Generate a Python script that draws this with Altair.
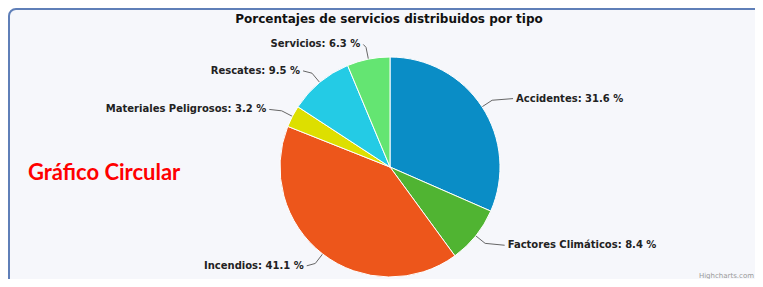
import altair as alt
import pandas as pd

categories = ["Accidentes", "Factores Climáticos", "Incendios",
              "Materiales Peligrosos", "Rescates", "Servicios"]
values = [31.6, 8.4, 41.1, 3.2, 9.5, 6.3]
colors = ["#0a8dc6", "#50b432", "#ed561b", "#dddf00", "#24cbe5", "#64e572"]
title_text = "Porcentajes de servicios distribuidos por tipo"
side_text = "Gráfico Circular"
credit_text = "Highcharts.com"

W, H = 747, 271
CX, CY, R = 382, 159, 110     # pie centre / radius (pixels)
EB = 122                       # connector bend radius
LXR, LXL, LY = 147, 136, 125   # label anchor radii (right side, left side, vertical)

df = pd.DataFrame({"idx": list(range(len(categories))),
                   "category": categories, "value": values})

base = (
    alt.Chart(df)
    .transform_joinaggregate(total="sum(value)")
    .transform_window(cum="sum(value)", sort=[alt.SortField("idx")], frame=[None, 0])
    .transform_calculate(a="2*PI*(datum.cum - datum.value/2)/datum.total")
    .transform_calculate(
        ex=f"{CX} + {R}*sin(datum.a)", ey=f"{CY} - {R}*cos(datum.a)",
        bx=f"{CX} + {EB}*sin(datum.a)", by=f"{CY} - {EB}*cos(datum.a)",
        lx=f"{CX} + (sin(datum.a) >= 0 ? {LXR} : {LXL})*sin(datum.a)",
        ly=f"{CY} - {LY}*cos(datum.a)",
        label="datum.category + ': ' + format(datum.value, '.1f') + ' %'",
        right="sin(datum.a) >= 0",
    )
)

one = pd.DataFrame({"k": [0]})
frame = alt.Chart(one).mark_rect(
    fill="#f6f7fb", stroke="#5f7fb8", strokeWidth=2, cornerRadius=7
).encode(x=alt.value(1), y=alt.value(1), x2=alt.value(1000), y2=alt.value(700))

seg1 = base.mark_rule(color="#666666", strokeWidth=1).encode(
    x=alt.X("ex:Q", scale=None, axis=None), y=alt.Y("ey:Q", scale=None, axis=None),
    x2="bx:Q", y2="by:Q")
seg2 = base.mark_rule(color="#666666", strokeWidth=1).encode(
    x=alt.X("bx:Q", scale=None, axis=None), y=alt.Y("by:Q", scale=None, axis=None),
    x2="lx:Q", y2="ly:Q")

pie = alt.Chart(df).mark_arc(radius=R, stroke="#ffffff", strokeWidth=1).encode(
    theta=alt.Theta("value:Q", stack=True),
    color=alt.Color("category:N", scale=alt.Scale(domain=categories, range=colors), legend=None),
    order=alt.Order("idx:Q"),
    x=alt.value(CX), y=alt.value(CY),
)

lab_style = dict(fontSize=10, font="DejaVu Sans", fontWeight="bold", color="#222222", baseline="middle")
lab_r = base.transform_filter("datum.right").mark_text(align="left", dx=3, **lab_style).encode(
    x=alt.X("lx:Q", scale=None, axis=None), y=alt.Y("ly:Q", scale=None, axis=None), text="label:N")
lab_l = base.transform_filter("!datum.right").mark_text(align="right", dx=-3, **lab_style).encode(
    x=alt.X("lx:Q", scale=None, axis=None), y=alt.Y("ly:Q", scale=None, axis=None), text="label:N")

title = alt.Chart(pd.DataFrame({"t": [title_text]})).mark_text(
    fontSize=12, font="DejaVu Sans", fontWeight="bold", color="#111111", align="center", baseline="middle"
).encode(x=alt.value(381), y=alt.value(11), text="t:N")

side = alt.Chart(pd.DataFrame({"t": [side_text]})).mark_text(
    fontSize=22, font="Lato", fontWeight="bold", color="#ff0000", align="left", baseline="middle"
).encode(x=alt.value(20), y=alt.value(165), text="t:N")

credit = alt.Chart(pd.DataFrame({"t": [credit_text]})).mark_text(
    fontSize=7, font="DejaVu Sans", color="#999999", align="right", baseline="middle"
).encode(x=alt.value(746), y=alt.value(268), text="t:N")

chart = alt.layer(frame, seg1, seg2, pie, lab_r, lab_l, title, side, credit).properties(
    width=W, height=H, padding=0, autosize=alt.AutoSizeParams(type="none")
).configure_view(stroke=None)

chart.save("out.html", embed_options={"renderer": "svg", "actions": False})
